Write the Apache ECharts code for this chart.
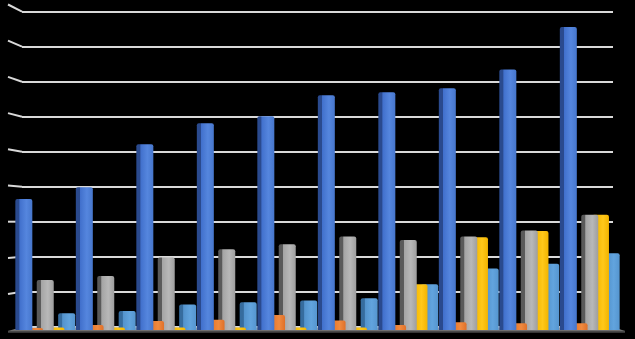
<!DOCTYPE html>
<html>
<head>
<meta charset="utf-8">
<script src="https://cdn.jsdelivr.net/npm/echarts@6/dist/echarts.min.js"></script>
<style>
html,body{margin:0;padding:0;background:#000;}
#chart{width:635px;height:339px;}
</style>
</head>
<body>
<div id="chart"></div>
<script>
var categories = ['1','2','3','4','5','6','7','8','9','10'];
var seriesNames = ['Series 1','Series 2','Series 3','Series 4','Series 5'];
var series1 = [3.74, 4.08, 5.31, 5.91, 6.11, 6.71, 6.79, 6.91, 7.44, 8.66];
var series2 = [0.06, 0.14, 0.26, 0.29, 0.43, 0.27, 0.14, 0.22, 0.19, 0.19];
var series3 = [1.43, 1.54, 2.07, 2.31, 2.45, 2.67, 2.57, 2.67, 2.84, 3.29];
var series4 = [0.07, 0.07, 0.07, 0.07, 0.07, 0.07, 1.31, 2.65, 2.83, 3.29];
var series5 = [0.48, 0.54, 0.73, 0.79, 0.84, 0.91, 1.31, 1.76, 1.89, 2.19];
var gridTicks = [1, 2, 3, 4, 5, 6, 7, 8, 9];

function grad(dark, mid, light, edge) {
  return new echarts.graphic.LinearGradient(0, 0, 1, 0, [
    {offset: 0, color: dark}, {offset: 0.22, color: dark},
    {offset: 0.26, color: mid}, {offset: 0.65, color: light}, {offset: 1, color: edge}
  ]);
}
var colors = [
  grad('#2a4a8e', '#4170cc', '#5586de', '#4676cc'),
  grad('#a9551a', '#e8772b', '#f08a40', '#e07028'),
  grad('#5a5a5a', '#a4a4a4', '#b8b8b8', '#9e9e9e'),
  grad('#b88a00', '#f5b800', '#ffc81a', '#f2b400'),
  grad('#366c9e', '#5393cd', '#62a4de', '#5595cf')
];
var data = [series1, series2, series3, series4, series5];

var barSeries = data.map(function (d, i) {
  return {
    name: seriesNames[i],
    type: 'bar',
    xAxisIndex: 1,
    yAxisIndex: 1,
    data: d,
    barWidth: 17,
    barGap: '-37%',
    z: 6 - i,
    itemStyle: {color: colors[i], borderRadius: [2, 2, 0, 0]}
  };
});

var chart = echarts.init(document.getElementById('chart'), null, {renderer: 'canvas'});
chart.setOption({
  backgroundColor: '#000000',
  animation: false,
  grid: [
    {left: 22, right: 22, top: 11.7, bottom: 12.3},
    {left: 15, right: 15, top: 15, bottom: 9}
  ],
  xAxis: [
    {type: 'value', gridIndex: 0, min: 0, max: 1, show: false},
    {type: 'category', gridIndex: 1, data: categories, show: false}
  ],
  yAxis: [
    {type: 'value', gridIndex: 0, min: 0, max: 9, interval: 1,
     axisLine: {show: false}, axisTick: {show: false}, axisLabel: {show: false},
     splitLine: {show: true, lineStyle: {color: '#d9d9d9', width: 2}}},
    {type: 'value', gridIndex: 1, min: 0, max: 9, interval: 1, show: false,
     splitLine: {show: false}}
  ],
  series: [
    {
      type: 'custom',
      xAxisIndex: 0,
      yAxisIndex: 0,
      z: 1,
      silent: true,
      data: gridTicks,
      renderItem: function (params, api) {
        var v = api.value(0);
        var p = api.coord([0, v]);
        var dy = (v - 3) * 1.2;
        return {
          type: 'line',
          shape: {x1: p[0] - 14, y1: p[1] - dy, x2: p[0], y2: p[1]},
          style: {stroke: '#d9d9d9', lineWidth: 2}
        };
      }
    },
    {
      type: 'custom',
      xAxisIndex: 0,
      yAxisIndex: 0,
      z: 1,
      silent: true,
      data: [0],
      renderItem: function (params, api) {
        var a = api.coord([0, 0]);
        var b = api.coord([1, 0]);
        return {
          type: 'group',
          children: [
            {type: 'polygon', shape: {points: [[a[0], a[1] + 1], [b[0], a[1] + 1], [b[0] + 12, a[1] + 4], [a[0] - 14, a[1] + 4]]},
             style: {fill: '#a6a6a6'}},
            {type: 'polygon', shape: {points: [[a[0] - 14, a[1] + 4], [b[0] + 12, a[1] + 4], [b[0] + 12, a[1] + 6], [a[0] - 14, a[1] + 6]]},
             style: {fill: '#4a4a4a'}}
          ]
        };
      }
    }
  ].concat(barSeries)
});
</script>
</body>
</html>
